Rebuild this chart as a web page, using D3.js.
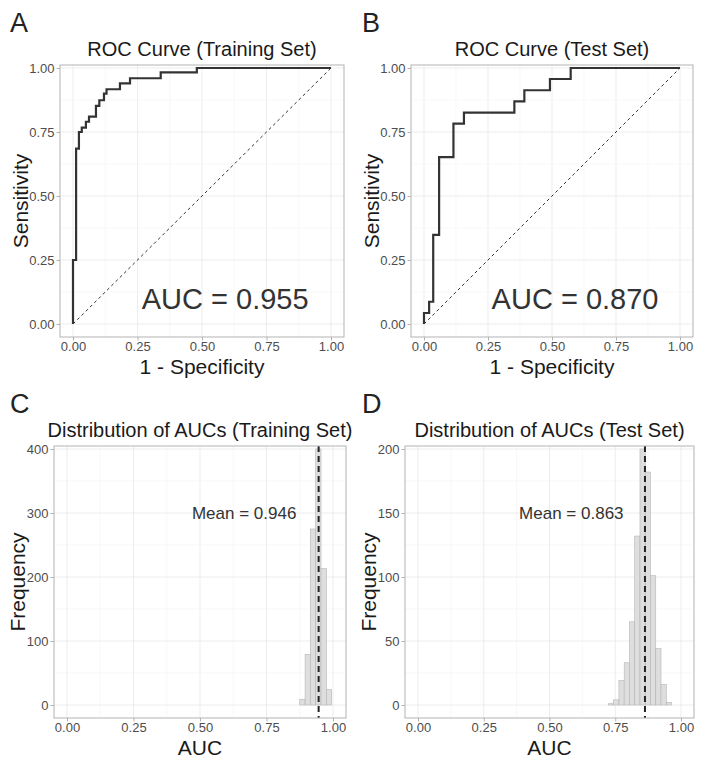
<!DOCTYPE html>
<html>
<head>
<meta charset="utf-8">
<script src="https://cdn.jsdelivr.net/npm/d3@7"></script>
<style>
  body { margin: 0; background: #fff; }
  svg { font-family: "Liberation Sans", Arial, sans-serif; }
</style>
</head>
<body>
<div id="figure-div"></div>
<script>
// ROC points (corner to corner), training set
var trainFpr = [0, 0, 0.012, 0.012, 0.023, 0.023, 0.034, 0.034, 0.05, 0.05, 0.062, 0.062, 0.089, 0.089, 0.102, 0.102, 0.12, 0.12, 0.13, 0.13, 0.182, 0.182, 0.221, 0.221, 0.34, 0.34, 0.48, 0.48, 1];
var trainTpr = [0, 0.25, 0.25, 0.685, 0.685, 0.75, 0.75, 0.767, 0.767, 0.79, 0.79, 0.81, 0.81, 0.852, 0.852, 0.874, 0.874, 0.90, 0.90, 0.917, 0.917, 0.94, 0.94, 0.96, 0.96, 0.983, 0.983, 1, 1];
// ROC points, test set
var testFpr = [0, 0, 0.02, 0.02, 0.036, 0.036, 0.059, 0.059, 0.115, 0.115, 0.156, 0.156, 0.353, 0.353, 0.392, 0.392, 0.492, 0.492, 0.573, 0.573, 1];
var testTpr = [0, 0.043, 0.043, 0.087, 0.087, 0.348, 0.348, 0.652, 0.652, 0.783, 0.783, 0.826, 0.826, 0.87, 0.87, 0.913, 0.913, 0.957, 0.957, 1, 1];

var aucTrain = "0.955";
var aucTest = "0.870";

// bootstrap AUC histograms (bin left edges + counts)
var binWidth = 0.02;
var trainBins = [0.875, 0.895, 0.915, 0.935, 0.955, 0.975];
var trainCounts = [9, 79, 275, 400, 213, 24];
var testBins = [0.724, 0.744, 0.764, 0.784, 0.804, 0.824, 0.844, 0.864, 0.884, 0.904, 0.924, 0.944];
var testCounts = [1, 4, 19, 33, 65, 132, 200, 182, 101, 44, 16, 2];
var meanTrain = 0.946;
var meanTest = 0.863;

var xTicks = [0, 0.25, 0.5, 0.75, 1];
var rocTicks = [0, 0.25, 0.5, 0.75, 1];
var trainHistTicks = [0, 100, 200, 300, 400];
var testHistTicks = [0, 50, 100, 150, 200];

var w = 704, h = 760;
var svg = d3.select("#figure-div").append("svg")
	.attr("width", w)
	.attr("height", h);

// one ggplot-like panel (theme_light)
function makePanel(cfg) {
	var g = svg.append("g");
	var xScale = d3.scaleLinear().domain([0, 1]).range([cfg.left + 13, cfg.right - 13]);
	var yScale = d3.scaleLinear().domain([0, cfg.yMax]).range([cfg.bottom - 13, cfg.top + 3]);

	// minor grid
	var xMinor = [];
	for (var i = 0; i < xTicks.length - 1; i++) xMinor.push((xTicks[i] + xTicks[i+1]) / 2);
	var yMinor = [];
	for (var i = 0; i < cfg.yTicks.length - 1; i++) yMinor.push((cfg.yTicks[i] + cfg.yTicks[i+1]) / 2);
	g.selectAll("line.xminor").data(xMinor).enter().append("line")
		.attr("x1", function(d) { return xScale(d) }).attr("x2", function(d) { return xScale(d) })
		.attr("y1", cfg.top).attr("y2", cfg.bottom)
		.attr("stroke", "#f3f3f3").attr("stroke-width", 0.6);
	g.selectAll("line.yminor").data(yMinor).enter().append("line")
		.attr("y1", function(d) { return yScale(d) }).attr("y2", function(d) { return yScale(d) })
		.attr("x1", cfg.left).attr("x2", cfg.right)
		.attr("stroke", "#f3f3f3").attr("stroke-width", 0.6);
	// major grid
	g.selectAll("line.xmajor").data(xTicks).enter().append("line")
		.attr("x1", function(d) { return xScale(d) }).attr("x2", function(d) { return xScale(d) })
		.attr("y1", cfg.top).attr("y2", cfg.bottom)
		.attr("stroke", "#e8e8e8").attr("stroke-width", 0.8);
	g.selectAll("line.ymajor").data(cfg.yTicks).enter().append("line")
		.attr("y1", function(d) { return yScale(d) }).attr("y2", function(d) { return yScale(d) })
		.attr("x1", cfg.left).attr("x2", cfg.right)
		.attr("stroke", "#e8e8e8").attr("stroke-width", 0.8);

	// axes
	var xAxis = g.append("g")
		.attr("transform", "translate(0," + cfg.bottom + ")")
		.call(d3.axisBottom(xScale).tickValues(xTicks).tickSize(3.5).tickPadding(1.5).tickFormat(d3.format(".2f")));
	var yAxis = g.append("g")
		.attr("transform", "translate(" + cfg.left + ",0)")
		.call(d3.axisLeft(yScale).tickValues(cfg.yTicks).tickSize(3.5).tickPadding(2).tickFormat(cfg.yFormat));
	[xAxis, yAxis].forEach(function(a) {
		a.select(".domain").remove();
		a.selectAll("line").attr("stroke", "#b3b3b3");
		a.selectAll("text").attr("fill", "#4d4d4d").style("font-size", "13px").style("font-family", "Liberation Sans, Arial, sans-serif");
	});

	// titles
	g.append("text")
		.attr("x", (cfg.left + cfg.right) / 2).attr("y", cfg.top - 9)
		.attr("text-anchor", "middle").attr("fill", "#1a1a1a").style("font-size", "20px")
		.text(cfg.title);
	g.append("text")
		.attr("x", xScale(0.5)).attr("y", cfg.bottom + 37)
		.attr("text-anchor", "middle").attr("fill", "#1a1a1a").style("font-size", "21px")
		.text(cfg.xLabel);
	g.append("text")
		.attr("transform", "translate(" + cfg.yLabelX + "," + ((cfg.top + cfg.bottom) / 2) + ") rotate(-90)")
		.attr("dy", "0.35em")
		.attr("text-anchor", "middle").attr("fill", "#1a1a1a").style("font-size", "21px")
		.text(cfg.yLabel);
	// panel letter
	svg.append("text")
		.attr("x", cfg.letterX).attr("y", cfg.top - 33)
		.attr("fill", "#222").style("font-size", "27px")
		.text(cfg.letter);

	return { g: g, x: xScale, y: yScale };
}

function finishPanel(p, cfg) {
	p.g.append("rect")
		.attr("x", cfg.left).attr("y", cfg.top)
		.attr("width", cfg.right - cfg.left).attr("height", cfg.bottom - cfg.top)
		.attr("fill", "none").attr("stroke", "#b3b3b3").attr("stroke-width", 1);
}

function drawRoc(cfg, fpr, tpr, auc) {
	var p = makePanel(cfg);
	var pts = fpr.map(function(d, i) { return [d, tpr[i]] });
	p.g.append("line")
		.attr("x1", p.x(0)).attr("y1", p.y(0)).attr("x2", p.x(1)).attr("y2", p.y(1))
		.attr("stroke", "#333").attr("stroke-width", 1).attr("stroke-dasharray", "3,3");
	p.g.append("path")
		.datum(pts)
		.attr("d", d3.line().x(function(d) { return p.x(d[0]) }).y(function(d) { return p.y(d[1]) }))
		.attr("fill", "none").attr("stroke", "#333").attr("stroke-width", 2.2);
	p.g.append("text")
		.attr("x", p.x(0.59)).attr("y", p.y(0.1)).attr("dy", "0.35em")
		.attr("text-anchor", "middle").attr("fill", "#333").style("font-size", "29px")
		.text("AUC = " + auc);
	finishPanel(p, cfg);
}

function drawHist(cfg, bins, counts, mean) {
	var p = makePanel(cfg);
	p.g.selectAll("rect.bar")
		.data(bins)
		.enter()
		.append("rect")
		.attr("class", "bar")
		.attr("x", function(d) { return p.x(d) })
		.attr("width", function(d) { return p.x(d + binWidth) - p.x(d) })
		.attr("y", function(d, i) { return p.y(counts[i]) })
		.attr("height", function(d, i) { return p.y(0) - p.y(counts[i]) })
		.attr("fill", "#dedede").attr("stroke", "#b5b5b5").attr("stroke-width", 0.6);
	p.g.append("line")
		.attr("x1", p.x(mean)).attr("x2", p.x(mean))
		.attr("y1", cfg.top).attr("y2", cfg.bottom)
		.attr("stroke", "#222").attr("stroke-width", 2).attr("stroke-dasharray", "6,4");
	p.g.append("text")
		.attr("x", p.x(mean - 0.28)).attr("y", p.y(cfg.yMax * 0.75)).attr("dy", "0.35em")
		.attr("text-anchor", "middle").attr("fill", "#333").style("font-size", "17px")
		.text("Mean = " + mean.toFixed(3));
	finishPanel(p, cfg);
}

var f2 = d3.format(".2f");
var fInt = d3.format("d");

drawRoc({ left: 60, right: 344, top: 65, bottom: 337, yMax: 1, yTicks: rocTicks, yFormat: f2,
	title: "ROC Curve (Training Set)", xLabel: "1 - Specificity", yLabel: "Sensitivity", yLabelX: 21, letter: "A", letterX: 10 },
	trainFpr, trainTpr, aucTrain);
drawRoc({ left: 411, right: 693, top: 65, bottom: 337, yMax: 1, yTicks: rocTicks, yFormat: f2,
	title: "ROC Curve (Test Set)", xLabel: "1 - Specificity", yLabel: "Sensitivity", yLabelX: 372, letter: "B", letterX: 362 },
	testFpr, testTpr, aucTest);
drawHist({ left: 54, right: 346, top: 446, bottom: 718, yMax: 400, yTicks: trainHistTicks, yFormat: fInt,
	title: "Distribution of AUCs (Training Set)", xLabel: "AUC", yLabel: "Frequency", yLabelX: 18, letter: "C", letterX: 10 },
	trainBins, trainCounts, meanTrain);
drawHist({ left: 405, right: 694, top: 446, bottom: 718, yMax: 200, yTicks: testHistTicks, yFormat: fInt,
	title: "Distribution of AUCs (Test Set)", xLabel: "AUC", yLabel: "Frequency", yLabelX: 369, letter: "D", letterX: 362 },
	testBins, testCounts, meanTest);
</script>
</body>
</html>
